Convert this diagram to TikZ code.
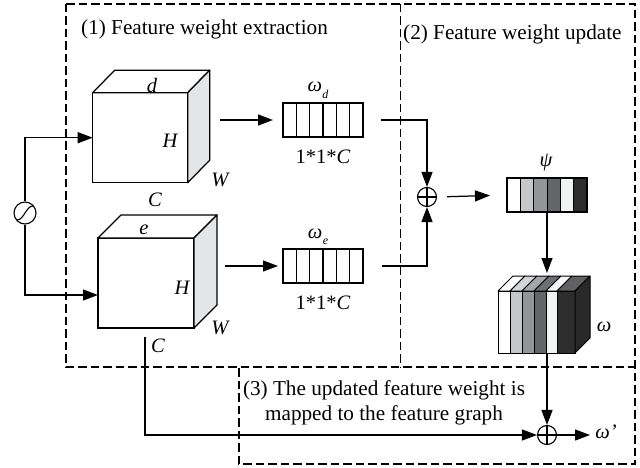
\documentclass[tikz,border=0pt]{standalone}
\usepackage{fontspec}
\setmainfont{Liberation Serif}
\usetikzlibrary{arrows.meta,calc}

\definecolor{sideg}{HTML}{E4E5E6}
\definecolor{c1}{HTML}{C6C7C9}
\definecolor{c2}{HTML}{939598}
\definecolor{c3}{HTML}{646567}
\definecolor{c4}{HTML}{F1F2F2}
\definecolor{c5}{HTML}{2E2D2E}
\definecolor{t1}{HTML}{D4D5D7}
\definecolor{t2}{HTML}{A4A6A9}
\definecolor{t3}{HTML}{6E6F72}
\definecolor{t4}{HTML}{F7F7F7}
\definecolor{t5}{HTML}{606062}
\definecolor{s5}{HTML}{2A292A}

\tikzset{
  arr/.style={line width=1.25pt, -{Triangle[length=15pt,width=11pt]}},
  frame/.style={line width=1.1pt, dash pattern=on 8.5pt off 4pt},
  face/.style={draw, line width=1.25pt, inner sep=0pt, outer sep=0pt},
  lbl/.style={font=\fontsize{20.5}{24}\selectfont\itshape, inner sep=0pt},
  ttl/.style={font=\fontsize{21.2}{25}\selectfont, inner sep=0pt},
  dim/.style={font=\fontsize{20.5}{24}\selectfont, inner sep=0pt},
  plus/.style={circle, draw, line width=1.1pt, minimum size=19pt, inner sep=0pt,
    path picture={\draw[line width=1.1pt]
      (path picture bounding box.north) -- (path picture bounding box.south)
      (path picture bounding box.west) -- (path picture bounding box.east);}},
}

\begin{document}
\begin{tikzpicture}[x=1pt,y=-1pt]
\useasboundingbox (0,0) rectangle (640,468);

% ---- region frames ----
\draw[frame] (66,4) -- (635,4) -- (635,464) -- (239,464) -- (239,367);
\draw[frame] (66,4) -- (66,367) -- (635,367);
\draw[frame] (400.5,4) -- (400.5,367);

\node[ttl, anchor=base west] (t1) at (81,34.5) {(1) Feature weight extraction};
\node[ttl, anchor=base west] (t2) at (403,39.5) {(2) Feature weight update};
\node[ttl, anchor=base] (t3a) at (384,395) {(3) The updated feature weight is};
\node[ttl, anchor=base] (t3b) at (384,420) {mapped to the feature graph};

% ---- feature cube d ----
\node[face, fill=white, minimum width=95pt, minimum height=90pt] (dfront) at (140.2,137.7) {};
\filldraw[fill=white, line width=1.25pt, line join=round]
  (dfront.north west) -- ++(22,-22.5) -- ++(95,0) -- (dfront.north east) -- cycle;
\filldraw[fill=sideg, line width=1.25pt, line join=round]
  (dfront.north east) -- ++(22,-22.5) -- ++(0,90) -- (dfront.south east) -- cycle;
\node[lbl] (dd) at (152,85) {d};
\node[lbl] (dh) at (170,141) {H};
\node[lbl] (dw) at (220,180) {W};
\node[lbl] (dc) at (155,200) {C};

% ---- feature cube e ----
\node[face, fill=white, minimum width=96pt, minimum height=90pt] (efront) at (146,283) {};
\filldraw[fill=white, line width=1.25pt, line join=round]
  (efront.north west) -- ++(23,-23) -- ++(96,0) -- (efront.north east) -- cycle;
\filldraw[fill=sideg, line width=1.25pt, line join=round]
  (efront.north east) -- ++(23,-23) -- ++(0,90) -- (efront.south east) -- cycle;
\node[lbl] (ee) at (144,230) {e};
\node[lbl] (eh) at (182,288) {H};
\node[lbl] (ew) at (220,328) {W};
\node[lbl] (ec) at (158,346) {C};

% ---- weight vectors ----
\node[face, minimum width=80pt, minimum height=34pt] (vd) at (323,120) {};
\node[face, minimum width=80pt, minimum height=34pt] (ve) at (323,266) {};
\foreach \i in {1,...,5}{
  \draw[line width=1.1pt] ($(vd.north west)+(\i*13.333,0)$) -- ++(0,34);
  \draw[line width=1.1pt] ($(ve.north west)+(\i*13.333,0)$) -- ++(0,34);
}
\node[lbl, anchor=base] (wdl) at (318,92) {ω\kern0.5pt\raisebox{-0.3em}{\fontsize{12}{12}\selectfont d}};
\node[lbl, anchor=base] (wel) at (318,238) {ω\kern0.5pt\raisebox{-0.3em}{\fontsize{12}{12}\selectfont e}};
\node[dim] (vdc) at (323,157) {1*1*\textit{C}};
\node[dim] (vec) at (323,303) {1*1*\textit{C}};

% ---- sigmoid gate ----
\node[circle, draw, line width=1.1pt, minimum size=22pt, inner sep=0pt] (sig) at (25,213) {};
\draw[line width=1.1pt]
  ([shift={(-8,7)}]sig.center) .. controls ([shift={(-1,7)}]sig.center) and ([shift={(1,-7)}]sig.center) .. ([shift={(8,-7)}]sig.center);
\coordinate (ein) at (98,295);
\draw[arr] (sig.north) |- (dfront.west);
\draw[arr] (sig.south) |- (ein);

% ---- cube to vector ----
\coordinate (dout) at (220,120);
\coordinate (eout) at (225,266);
\draw[arr, shorten >=10pt] (dout) -- (vd.west);
\draw[arr, shorten >=5pt] (eout) -- (ve.west);

% ---- fusion ----
\node[plus] (p1) at (427,197) {};
\draw[arr] ([xshift=18pt]vd.east) -| (p1.north);
\draw[arr] ([xshift=19pt]ve.east) -| (p1.south);

% ---- psi bar ----
\foreach \c [count=\i from 0] in {white,c1,c2,c3,c4,c5}{
  \fill[\c] (507+\i*13.333,178) rectangle ++(13.333,34);
}
\node[face, minimum width=80pt, minimum height=34pt] (psi) at (547,195) {};
\foreach \i in {1,...,5}{
  \draw[line width=1pt] ($(psi.north west)+(\i*13.333,0)$) -- ++(0,34);
}
\node[lbl] (psil) at (546,163) {ψ};
\draw[arr, shorten <=10pt, shorten >=17pt] (p1.east) -- (psi.west);

% ---- omega block ----
\foreach \xa/\xb/\cf/\ct in {498/510/white/white, 510/522/c1/t1, 522/534/c2/t2,
                             534/546/c3/t3, 546/557/c4/t4, 557/575/c5/t5}{
  \filldraw[fill=\ct, line width=1pt, line join=round]
    (\xa,291) -- (\xa+15,276) -- (\xb+15,276) -- (\xb,291) -- cycle;
  \filldraw[fill=\cf, line width=1pt] (\xa,291) rectangle (\xb,353);
}
\filldraw[fill=s5, line width=1pt, line join=round]
  (575,291) -- (590,276) -- (590,338) -- (575,353) -- cycle;
\node[inner sep=0pt, minimum width=77pt, minimum height=62pt] (wfront) at (536.5,322) {};
\node[lbl] (wl) at (604,327) {ω};
\coordinate (wtop) at (547,273);
\draw[arr] (psi.south) -- (wtop);

% ---- mapping back ----
\node[plus] (p2) at (547,435) {};
\draw[arr] (wfront.south -| p2) -- (p2.north);
\coordinate (cout) at (145,337);
\draw[arr] (cout) |- (p2.west);
\coordinate (wout) at (590,435);
\draw[arr] (p2.east) -- (wout);
\node[lbl] (wpl) at (606,432) {ω’};
\end{tikzpicture}
\end{document}
